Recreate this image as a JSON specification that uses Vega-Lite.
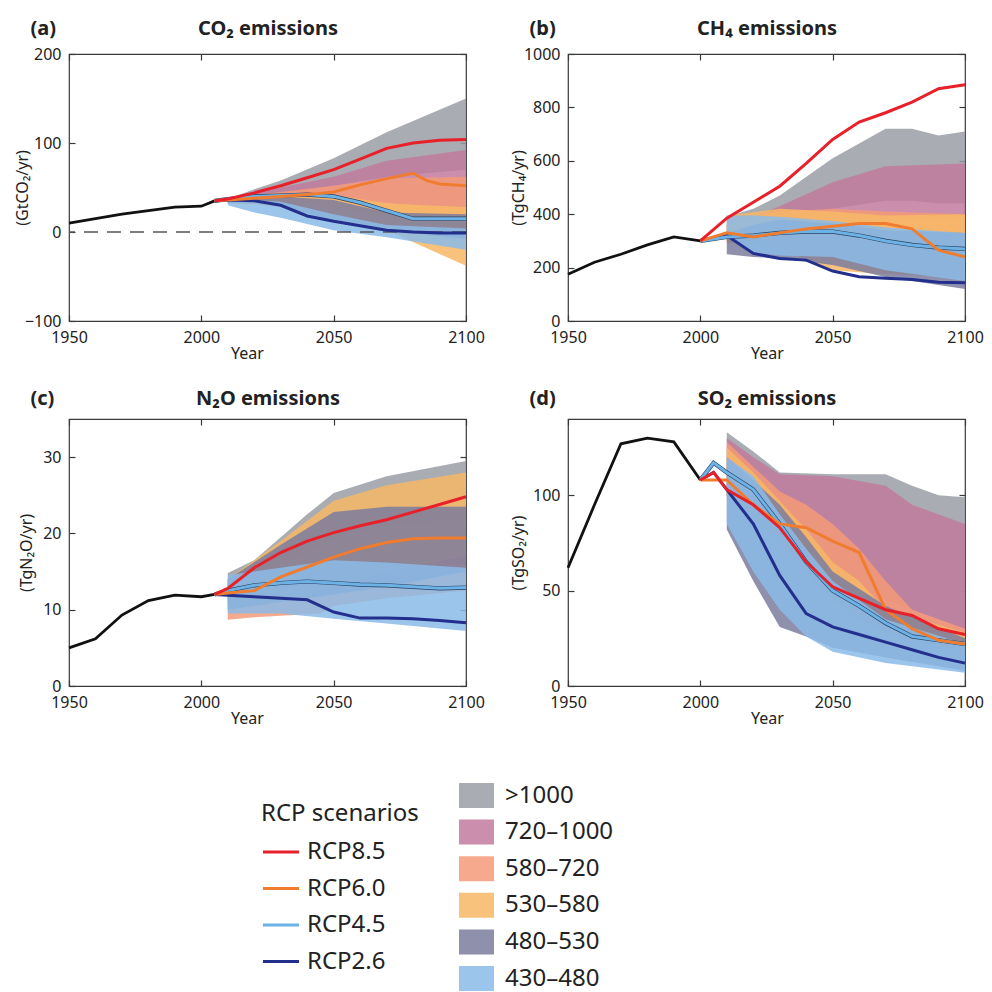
{
 "$schema": "https://vega.github.io/schema/vega-lite/v6.json",
 "padding": {"left": 13, "top": 17, "right": 5, "bottom": 5},
 "bounds": "flush",
 "columns": 2,
 "spacing": {"column": 102, "row": 98},
 "config": {
  "font": "Noto Sans",
  "view": {"stroke": "#3a3a3a", "strokeWidth": 1.2},
  "axis": {"grid": false, "domain": false, "tickColor": "#3a3a3a", "tickSize": -6, "tickWidth": 1.2, "labelFontSize": 16, "labelColor": "#222", "titleFontSize": 16, "titleFontWeight": "normal", "titleColor": "#222", "labelPadding": 14, "labelFlush": false},
  "legend": {"labelColor": "#222", "titleColor": "#222"}
 },
 "datasets": {
  "bands": [
   {"panel":"a","cat":">1000","year":2010,"lo":33,"hi":37},
   {"panel":"a","cat":">1000","year":2020,"lo":38,"hi":48},
   {"panel":"a","cat":">1000","year":2030,"lo":42,"hi":58},
   {"panel":"a","cat":">1000","year":2050,"lo":52,"hi":83},
   {"panel":"a","cat":">1000","year":2070,"lo":62,"hi":112},
   {"panel":"a","cat":">1000","year":2100,"lo":70,"hi":150},
   {"panel":"a","cat":"720–1000","year":2010,"lo":33,"hi":37},
   {"panel":"a","cat":"720–1000","year":2020,"lo":35,"hi":44},
   {"panel":"a","cat":"720–1000","year":2030,"lo":37,"hi":50},
   {"panel":"a","cat":"720–1000","year":2050,"lo":38,"hi":62},
   {"panel":"a","cat":"720–1000","year":2070,"lo":33,"hi":80},
   {"panel":"a","cat":"720–1000","year":2100,"lo":25,"hi":92},
   {"panel":"a","cat":"580–720","year":2010,"lo":33,"hi":36},
   {"panel":"a","cat":"580–720","year":2020,"lo":33,"hi":41},
   {"panel":"a","cat":"580–720","year":2030,"lo":33,"hi":45},
   {"panel":"a","cat":"580–720","year":2050,"lo":28,"hi":52},
   {"panel":"a","cat":"580–720","year":2070,"lo":18,"hi":60},
   {"panel":"a","cat":"580–720","year":2100,"lo":5,"hi":62},
   {"panel":"a","cat":"530–580","year":2010,"lo":32,"hi":36},
   {"panel":"a","cat":"530–580","year":2020,"lo":31,"hi":39},
   {"panel":"a","cat":"530–580","year":2030,"lo":28,"hi":41},
   {"panel":"a","cat":"530–580","year":2050,"lo":14,"hi":42},
   {"panel":"a","cat":"530–580","year":2070,"lo":2,"hi":32},
   {"panel":"a","cat":"530–580","year":2100,"lo":-38,"hi":28},
   {"panel":"a","cat":"480–530","year":2010,"lo":33,"hi":36},
   {"panel":"a","cat":"480–530","year":2020,"lo":33,"hi":39},
   {"panel":"a","cat":"480–530","year":2030,"lo":30,"hi":40},
   {"panel":"a","cat":"480–530","year":2050,"lo":12,"hi":36},
   {"panel":"a","cat":"480–530","year":2070,"lo":2,"hi":22},
   {"panel":"a","cat":"480–530","year":2100,"lo":-8,"hi":20},
   {"panel":"a","cat":"430–480","year":2010,"lo":30,"hi":35},
   {"panel":"a","cat":"430–480","year":2020,"lo":22,"hi":36},
   {"panel":"a","cat":"430–480","year":2030,"lo":16,"hi":34},
   {"panel":"a","cat":"430–480","year":2050,"lo":2,"hi":20},
   {"panel":"a","cat":"430–480","year":2070,"lo":-6,"hi":8},
   {"panel":"a","cat":"430–480","year":2100,"lo":-20,"hi":4},

   {"panel":"b","cat":">1000","year":2010,"lo":300,"hi":390},
   {"panel":"b","cat":">1000","year":2020,"lo":330,"hi":420},
   {"panel":"b","cat":">1000","year":2030,"lo":370,"hi":470},
   {"panel":"b","cat":">1000","year":2050,"lo":420,"hi":610},
   {"panel":"b","cat":">1000","year":2070,"lo":450,"hi":720},
   {"panel":"b","cat":">1000","year":2080,"lo":450,"hi":720},
   {"panel":"b","cat":">1000","year":2090,"lo":440,"hi":695},
   {"panel":"b","cat":">1000","year":2100,"lo":440,"hi":710},
   {"panel":"b","cat":"720–1000","year":2010,"lo":300,"hi":360},
   {"panel":"b","cat":"720–1000","year":2020,"lo":320,"hi":390},
   {"panel":"b","cat":"720–1000","year":2030,"lo":340,"hi":430},
   {"panel":"b","cat":"720–1000","year":2050,"lo":360,"hi":520},
   {"panel":"b","cat":"720–1000","year":2070,"lo":380,"hi":580},
   {"panel":"b","cat":"720–1000","year":2100,"lo":380,"hi":590},
   {"panel":"b","cat":"580–720","year":2010,"lo":290,"hi":360},
   {"panel":"b","cat":"580–720","year":2020,"lo":300,"hi":390},
   {"panel":"b","cat":"580–720","year":2030,"lo":300,"hi":410},
   {"panel":"b","cat":"580–720","year":2050,"lo":280,"hi":420},
   {"panel":"b","cat":"580–720","year":2070,"lo":250,"hi":410},
   {"panel":"b","cat":"580–720","year":2100,"lo":230,"hi":400},
   {"panel":"b","cat":"530–580","year":2010,"lo":300,"hi":395},
   {"panel":"b","cat":"530–580","year":2030,"lo":270,"hi":420},
   {"panel":"b","cat":"530–580","year":2050,"lo":190,"hi":410},
   {"panel":"b","cat":"530–580","year":2070,"lo":175,"hi":395},
   {"panel":"b","cat":"530–580","year":2100,"lo":165,"hi":400},
   {"panel":"b","cat":"480–530","year":2010,"lo":250,"hi":330},
   {"panel":"b","cat":"480–530","year":2020,"lo":240,"hi":360},
   {"panel":"b","cat":"480–530","year":2030,"lo":235,"hi":380},
   {"panel":"b","cat":"480–530","year":2050,"lo":210,"hi":365},
   {"panel":"b","cat":"480–530","year":2070,"lo":165,"hi":340},
   {"panel":"b","cat":"480–530","year":2100,"lo":120,"hi":330},
   {"panel":"b","cat":"430–480","year":2010,"lo":320,"hi":395},
   {"panel":"b","cat":"430–480","year":2020,"lo":255,"hi":395},
   {"panel":"b","cat":"430–480","year":2030,"lo":245,"hi":390},
   {"panel":"b","cat":"430–480","year":2050,"lo":240,"hi":375},
   {"panel":"b","cat":"430–480","year":2070,"lo":190,"hi":350},
   {"panel":"b","cat":"430–480","year":2100,"lo":150,"hi":330},

   {"panel":"c","cat":">1000","year":2010,"lo":11.5,"hi":14.8},
   {"panel":"c","cat":">1000","year":2020,"lo":12.5,"hi":16.5},
   {"panel":"c","cat":">1000","year":2030,"lo":14,"hi":19.5},
   {"panel":"c","cat":">1000","year":2040,"lo":15.5,"hi":22.5},
   {"panel":"c","cat":">1000","year":2050,"lo":17,"hi":25.3},
   {"panel":"c","cat":">1000","year":2070,"lo":19.5,"hi":27.5},
   {"panel":"c","cat":">1000","year":2100,"lo":22.5,"hi":29.5},
   {"panel":"c","cat":"720–1000","year":2010,"lo":11,"hi":14},
   {"panel":"c","cat":"720–1000","year":2030,"lo":12.5,"hi":18},
   {"panel":"c","cat":"720–1000","year":2050,"lo":14,"hi":21.5},
   {"panel":"c","cat":"720–1000","year":2070,"lo":15,"hi":22.8},
   {"panel":"c","cat":"720–1000","year":2100,"lo":16,"hi":23.5},
   {"panel":"c","cat":"580–720","year":2010,"lo":8.7,"hi":13.5},
   {"panel":"c","cat":"580–720","year":2020,"lo":9,"hi":14.5},
   {"panel":"c","cat":"580–720","year":2030,"lo":9.2,"hi":16},
   {"panel":"c","cat":"580–720","year":2045,"lo":9.5,"hi":18.5},
   {"panel":"c","cat":"580–720","year":2050,"lo":10.5,"hi":19.5},
   {"panel":"c","cat":"580–720","year":2070,"lo":11.5,"hi":21},
   {"panel":"c","cat":"580–720","year":2100,"lo":12.5,"hi":22},
   {"panel":"c","cat":"530–580","year":2010,"lo":10,"hi":14},
   {"panel":"c","cat":"530–580","year":2030,"lo":11,"hi":19},
   {"panel":"c","cat":"530–580","year":2050,"lo":13,"hi":24.3},
   {"panel":"c","cat":"530–580","year":2070,"lo":15,"hi":26.3},
   {"panel":"c","cat":"530–580","year":2100,"lo":17,"hi":28},
   {"panel":"c","cat":"480–530","year":2010,"lo":10,"hi":14},
   {"panel":"c","cat":"480–530","year":2030,"lo":11,"hi":18.5},
   {"panel":"c","cat":"480–530","year":2050,"lo":12,"hi":22.8},
   {"panel":"c","cat":"480–530","year":2070,"lo":13,"hi":23.5},
   {"panel":"c","cat":"480–530","year":2100,"lo":15,"hi":23.5},
   {"panel":"c","cat":"430–480","year":2010,"lo":9.5,"hi":14.5},
   {"panel":"c","cat":"430–480","year":2030,"lo":9.5,"hi":15.5},
   {"panel":"c","cat":"430–480","year":2050,"lo":8.8,"hi":16.5},
   {"panel":"c","cat":"430–480","year":2070,"lo":8.2,"hi":16.2},
   {"panel":"c","cat":"430–480","year":2100,"lo":7.2,"hi":15.5},

   {"panel":"d","cat":">1000","year":2010,"lo":100,"hi":133},
   {"panel":"d","cat":">1000","year":2020,"lo":92,"hi":123},
   {"panel":"d","cat":">1000","year":2030,"lo":80,"hi":112},
   {"panel":"d","cat":">1000","year":2050,"lo":60,"hi":111},
   {"panel":"d","cat":">1000","year":2070,"lo":45,"hi":111},
   {"panel":"d","cat":">1000","year":2080,"lo":40,"hi":105},
   {"panel":"d","cat":">1000","year":2090,"lo":35,"hi":100},
   {"panel":"d","cat":">1000","year":2100,"lo":30,"hi":99},
   {"panel":"d","cat":"720–1000","year":2010,"lo":100,"hi":130},
   {"panel":"d","cat":"720–1000","year":2020,"lo":90,"hi":120},
   {"panel":"d","cat":"720–1000","year":2030,"lo":75,"hi":111},
   {"panel":"d","cat":"720–1000","year":2050,"lo":52,"hi":110},
   {"panel":"d","cat":"720–1000","year":2070,"lo":40,"hi":105},
   {"panel":"d","cat":"720–1000","year":2080,"lo":35,"hi":95},
   {"panel":"d","cat":"720–1000","year":2100,"lo":25,"hi":85},
   {"panel":"d","cat":"580–720","year":2010,"lo":100,"hi":128},
   {"panel":"d","cat":"580–720","year":2020,"lo":90,"hi":115},
   {"panel":"d","cat":"580–720","year":2030,"lo":78,"hi":102},
   {"panel":"d","cat":"580–720","year":2040,"lo":65,"hi":95},
   {"panel":"d","cat":"580–720","year":2050,"lo":50,"hi":85},
   {"panel":"d","cat":"580–720","year":2060,"lo":40,"hi":72},
   {"panel":"d","cat":"580–720","year":2070,"lo":32,"hi":55},
   {"panel":"d","cat":"580–720","year":2080,"lo":26,"hi":40},
   {"panel":"d","cat":"580–720","year":2100,"lo":20,"hi":30},
   {"panel":"d","cat":"530–580","year":2010,"lo":98,"hi":125},
   {"panel":"d","cat":"530–580","year":2020,"lo":88,"hi":112},
   {"panel":"d","cat":"530–580","year":2030,"lo":75,"hi":97},
   {"panel":"d","cat":"530–580","year":2040,"lo":60,"hi":82},
   {"panel":"d","cat":"530–580","year":2050,"lo":45,"hi":65},
   {"panel":"d","cat":"530–580","year":2060,"lo":35,"hi":55},
   {"panel":"d","cat":"530–580","year":2070,"lo":28,"hi":40},
   {"panel":"d","cat":"530–580","year":2100,"lo":18,"hi":28},
   {"panel":"d","cat":"480–530","year":2010,"lo":82,"hi":120},
   {"panel":"d","cat":"480–530","year":2020,"lo":55,"hi":108},
   {"panel":"d","cat":"480–530","year":2030,"lo":31,"hi":95},
   {"panel":"d","cat":"480–530","year":2040,"lo":26,"hi":78},
   {"panel":"d","cat":"480–530","year":2050,"lo":20,"hi":60},
   {"panel":"d","cat":"480–530","year":2070,"lo":15,"hi":42},
   {"panel":"d","cat":"480–530","year":2100,"lo":8,"hi":25},
   {"panel":"d","cat":"430–480","year":2010,"lo":85,"hi":120},
   {"panel":"d","cat":"430–480","year":2020,"lo":60,"hi":110},
   {"panel":"d","cat":"430–480","year":2030,"lo":40,"hi":90},
   {"panel":"d","cat":"430–480","year":2040,"lo":26,"hi":72},
   {"panel":"d","cat":"430–480","year":2050,"lo":18,"hi":55},
   {"panel":"d","cat":"430–480","year":2070,"lo":12,"hi":35},
   {"panel":"d","cat":"430–480","year":2100,"lo":7,"hi":22}
  ],
  "lines": [
   {"panel":"a","scen":"Historical","year":1950,"v":10},
   {"panel":"a","scen":"Historical","year":1960,"v":15},
   {"panel":"a","scen":"Historical","year":1970,"v":20},
   {"panel":"a","scen":"Historical","year":1980,"v":24},
   {"panel":"a","scen":"Historical","year":1990,"v":28},
   {"panel":"a","scen":"Historical","year":2000,"v":29},
   {"panel":"a","scen":"Historical","year":2005,"v":35},
   {"panel":"a","scen":"RCP2.6","year":2005,"v":35},
   {"panel":"a","scen":"RCP2.6","year":2010,"v":36},
   {"panel":"a","scen":"RCP2.6","year":2020,"v":35},
   {"panel":"a","scen":"RCP2.6","year":2030,"v":30},
   {"panel":"a","scen":"RCP2.6","year":2040,"v":18},
   {"panel":"a","scen":"RCP2.6","year":2050,"v":12},
   {"panel":"a","scen":"RCP2.6","year":2060,"v":7},
   {"panel":"a","scen":"RCP2.6","year":2070,"v":2},
   {"panel":"a","scen":"RCP2.6","year":2080,"v":0},
   {"panel":"a","scen":"RCP2.6","year":2090,"v":-1},
   {"panel":"a","scen":"RCP2.6","year":2100,"v":-1},
   {"panel":"a","scen":"RCP4.5","year":2005,"v":35},
   {"panel":"a","scen":"RCP4.5","year":2010,"v":37},
   {"panel":"a","scen":"RCP4.5","year":2020,"v":40},
   {"panel":"a","scen":"RCP4.5","year":2030,"v":41},
   {"panel":"a","scen":"RCP4.5","year":2040,"v":42},
   {"panel":"a","scen":"RCP4.5","year":2050,"v":40},
   {"panel":"a","scen":"RCP4.5","year":2060,"v":33},
   {"panel":"a","scen":"RCP4.5","year":2070,"v":24},
   {"panel":"a","scen":"RCP4.5","year":2080,"v":15},
   {"panel":"a","scen":"RCP4.5","year":2090,"v":15},
   {"panel":"a","scen":"RCP4.5","year":2100,"v":15},
   {"panel":"a","scen":"RCP6.0","year":2005,"v":35},
   {"panel":"a","scen":"RCP6.0","year":2010,"v":36},
   {"panel":"a","scen":"RCP6.0","year":2020,"v":38},
   {"panel":"a","scen":"RCP6.0","year":2030,"v":40},
   {"panel":"a","scen":"RCP6.0","year":2040,"v":42},
   {"panel":"a","scen":"RCP6.0","year":2050,"v":45},
   {"panel":"a","scen":"RCP6.0","year":2060,"v":53},
   {"panel":"a","scen":"RCP6.0","year":2070,"v":60},
   {"panel":"a","scen":"RCP6.0","year":2080,"v":66},
   {"panel":"a","scen":"RCP6.0","year":2085,"v":58},
   {"panel":"a","scen":"RCP6.0","year":2090,"v":54},
   {"panel":"a","scen":"RCP6.0","year":2100,"v":52},
   {"panel":"a","scen":"RCP8.5","year":2005,"v":35},
   {"panel":"a","scen":"RCP8.5","year":2010,"v":37},
   {"panel":"a","scen":"RCP8.5","year":2020,"v":44},
   {"panel":"a","scen":"RCP8.5","year":2030,"v":52},
   {"panel":"a","scen":"RCP8.5","year":2040,"v":61},
   {"panel":"a","scen":"RCP8.5","year":2050,"v":70},
   {"panel":"a","scen":"RCP8.5","year":2060,"v":82},
   {"panel":"a","scen":"RCP8.5","year":2070,"v":94},
   {"panel":"a","scen":"RCP8.5","year":2080,"v":100},
   {"panel":"a","scen":"RCP8.5","year":2090,"v":103},
   {"panel":"a","scen":"RCP8.5","year":2100,"v":104},

   {"panel":"b","scen":"Historical","year":1950,"v":175},
   {"panel":"b","scen":"Historical","year":1960,"v":220},
   {"panel":"b","scen":"Historical","year":1970,"v":250},
   {"panel":"b","scen":"Historical","year":1980,"v":285},
   {"panel":"b","scen":"Historical","year":1990,"v":315},
   {"panel":"b","scen":"Historical","year":2000,"v":300},
   {"panel":"b","scen":"RCP2.6","year":2000,"v":300},
   {"panel":"b","scen":"RCP2.6","year":2010,"v":320},
   {"panel":"b","scen":"RCP2.6","year":2020,"v":253},
   {"panel":"b","scen":"RCP2.6","year":2030,"v":234},
   {"panel":"b","scen":"RCP2.6","year":2040,"v":228},
   {"panel":"b","scen":"RCP2.6","year":2050,"v":187},
   {"panel":"b","scen":"RCP2.6","year":2060,"v":166},
   {"panel":"b","scen":"RCP2.6","year":2070,"v":160},
   {"panel":"b","scen":"RCP2.6","year":2080,"v":155},
   {"panel":"b","scen":"RCP2.6","year":2090,"v":145},
   {"panel":"b","scen":"RCP2.6","year":2100,"v":143},
   {"panel":"b","scen":"RCP4.5","year":2000,"v":300},
   {"panel":"b","scen":"RCP4.5","year":2010,"v":315},
   {"panel":"b","scen":"RCP4.5","year":2020,"v":320},
   {"panel":"b","scen":"RCP4.5","year":2030,"v":330},
   {"panel":"b","scen":"RCP4.5","year":2040,"v":335},
   {"panel":"b","scen":"RCP4.5","year":2050,"v":335},
   {"panel":"b","scen":"RCP4.5","year":2060,"v":320},
   {"panel":"b","scen":"RCP4.5","year":2070,"v":300},
   {"panel":"b","scen":"RCP4.5","year":2080,"v":285},
   {"panel":"b","scen":"RCP4.5","year":2090,"v":275},
   {"panel":"b","scen":"RCP4.5","year":2100,"v":270},
   {"panel":"b","scen":"RCP6.0","year":2000,"v":300},
   {"panel":"b","scen":"RCP6.0","year":2010,"v":330},
   {"panel":"b","scen":"RCP6.0","year":2020,"v":315},
   {"panel":"b","scen":"RCP6.0","year":2030,"v":330},
   {"panel":"b","scen":"RCP6.0","year":2040,"v":345},
   {"panel":"b","scen":"RCP6.0","year":2050,"v":355},
   {"panel":"b","scen":"RCP6.0","year":2060,"v":365},
   {"panel":"b","scen":"RCP6.0","year":2070,"v":365},
   {"panel":"b","scen":"RCP6.0","year":2080,"v":345},
   {"panel":"b","scen":"RCP6.0","year":2090,"v":265},
   {"panel":"b","scen":"RCP6.0","year":2100,"v":240},
   {"panel":"b","scen":"RCP8.5","year":2000,"v":300},
   {"panel":"b","scen":"RCP8.5","year":2010,"v":385},
   {"panel":"b","scen":"RCP8.5","year":2020,"v":445},
   {"panel":"b","scen":"RCP8.5","year":2030,"v":505},
   {"panel":"b","scen":"RCP8.5","year":2040,"v":590},
   {"panel":"b","scen":"RCP8.5","year":2050,"v":680},
   {"panel":"b","scen":"RCP8.5","year":2060,"v":745},
   {"panel":"b","scen":"RCP8.5","year":2070,"v":780},
   {"panel":"b","scen":"RCP8.5","year":2080,"v":820},
   {"panel":"b","scen":"RCP8.5","year":2090,"v":870},
   {"panel":"b","scen":"RCP8.5","year":2100,"v":885},

   {"panel":"c","scen":"Historical","year":1950,"v":5.0},
   {"panel":"c","scen":"Historical","year":1960,"v":6.2},
   {"panel":"c","scen":"Historical","year":1970,"v":9.3},
   {"panel":"c","scen":"Historical","year":1980,"v":11.2},
   {"panel":"c","scen":"Historical","year":1990,"v":11.9},
   {"panel":"c","scen":"Historical","year":2000,"v":11.7},
   {"panel":"c","scen":"Historical","year":2005,"v":12.0},
   {"panel":"c","scen":"RCP2.6","year":2005,"v":12},
   {"panel":"c","scen":"RCP2.6","year":2010,"v":11.9},
   {"panel":"c","scen":"RCP2.6","year":2020,"v":11.7},
   {"panel":"c","scen":"RCP2.6","year":2030,"v":11.5},
   {"panel":"c","scen":"RCP2.6","year":2040,"v":11.3},
   {"panel":"c","scen":"RCP2.6","year":2050,"v":9.7},
   {"panel":"c","scen":"RCP2.6","year":2060,"v":8.9},
   {"panel":"c","scen":"RCP2.6","year":2070,"v":8.9},
   {"panel":"c","scen":"RCP2.6","year":2080,"v":8.8},
   {"panel":"c","scen":"RCP2.6","year":2090,"v":8.6},
   {"panel":"c","scen":"RCP2.6","year":2100,"v":8.3},
   {"panel":"c","scen":"RCP4.5","year":2005,"v":12},
   {"panel":"c","scen":"RCP4.5","year":2010,"v":12.5},
   {"panel":"c","scen":"RCP4.5","year":2020,"v":13.2},
   {"panel":"c","scen":"RCP4.5","year":2030,"v":13.5},
   {"panel":"c","scen":"RCP4.5","year":2040,"v":13.7},
   {"panel":"c","scen":"RCP4.5","year":2050,"v":13.5},
   {"panel":"c","scen":"RCP4.5","year":2060,"v":13.3},
   {"panel":"c","scen":"RCP4.5","year":2070,"v":13.2},
   {"panel":"c","scen":"RCP4.5","year":2080,"v":13.0},
   {"panel":"c","scen":"RCP4.5","year":2090,"v":12.8},
   {"panel":"c","scen":"RCP4.5","year":2100,"v":12.9},
   {"panel":"c","scen":"RCP6.0","year":2005,"v":12},
   {"panel":"c","scen":"RCP6.0","year":2010,"v":12.2},
   {"panel":"c","scen":"RCP6.0","year":2020,"v":12.5},
   {"panel":"c","scen":"RCP6.0","year":2030,"v":14.3},
   {"panel":"c","scen":"RCP6.0","year":2040,"v":15.6},
   {"panel":"c","scen":"RCP6.0","year":2050,"v":16.9},
   {"panel":"c","scen":"RCP6.0","year":2060,"v":18.0},
   {"panel":"c","scen":"RCP6.0","year":2070,"v":18.8},
   {"panel":"c","scen":"RCP6.0","year":2080,"v":19.3},
   {"panel":"c","scen":"RCP6.0","year":2090,"v":19.4},
   {"panel":"c","scen":"RCP6.0","year":2100,"v":19.4},
   {"panel":"c","scen":"RCP8.5","year":2005,"v":12},
   {"panel":"c","scen":"RCP8.5","year":2010,"v":12.8},
   {"panel":"c","scen":"RCP8.5","year":2020,"v":15.5},
   {"panel":"c","scen":"RCP8.5","year":2030,"v":17.5},
   {"panel":"c","scen":"RCP8.5","year":2040,"v":19.0},
   {"panel":"c","scen":"RCP8.5","year":2050,"v":20.1},
   {"panel":"c","scen":"RCP8.5","year":2060,"v":21.0},
   {"panel":"c","scen":"RCP8.5","year":2070,"v":21.8},
   {"panel":"c","scen":"RCP8.5","year":2080,"v":22.8},
   {"panel":"c","scen":"RCP8.5","year":2090,"v":23.8},
   {"panel":"c","scen":"RCP8.5","year":2100,"v":24.8},

   {"panel":"d","scen":"Historical","year":1950,"v":62},
   {"panel":"d","scen":"Historical","year":1960,"v":95},
   {"panel":"d","scen":"Historical","year":1970,"v":127},
   {"panel":"d","scen":"Historical","year":1980,"v":130},
   {"panel":"d","scen":"Historical","year":1990,"v":128},
   {"panel":"d","scen":"Historical","year":2000,"v":108},
   {"panel":"d","scen":"RCP2.6","year":2000,"v":108},
   {"panel":"d","scen":"RCP2.6","year":2005,"v":112},
   {"panel":"d","scen":"RCP2.6","year":2010,"v":103},
   {"panel":"d","scen":"RCP2.6","year":2020,"v":85},
   {"panel":"d","scen":"RCP2.6","year":2030,"v":58},
   {"panel":"d","scen":"RCP2.6","year":2040,"v":38},
   {"panel":"d","scen":"RCP2.6","year":2050,"v":31},
   {"panel":"d","scen":"RCP2.6","year":2060,"v":27},
   {"panel":"d","scen":"RCP2.6","year":2070,"v":23},
   {"panel":"d","scen":"RCP2.6","year":2080,"v":19},
   {"panel":"d","scen":"RCP2.6","year":2090,"v":15},
   {"panel":"d","scen":"RCP2.6","year":2100,"v":12},
   {"panel":"d","scen":"RCP4.5","year":2000,"v":108},
   {"panel":"d","scen":"RCP4.5","year":2005,"v":117},
   {"panel":"d","scen":"RCP4.5","year":2010,"v":112},
   {"panel":"d","scen":"RCP4.5","year":2020,"v":103},
   {"panel":"d","scen":"RCP4.5","year":2030,"v":85},
   {"panel":"d","scen":"RCP4.5","year":2040,"v":65},
   {"panel":"d","scen":"RCP4.5","year":2050,"v":50},
   {"panel":"d","scen":"RCP4.5","year":2060,"v":42},
   {"panel":"d","scen":"RCP4.5","year":2070,"v":33},
   {"panel":"d","scen":"RCP4.5","year":2080,"v":26},
   {"panel":"d","scen":"RCP4.5","year":2090,"v":24},
   {"panel":"d","scen":"RCP4.5","year":2100,"v":22},
   {"panel":"d","scen":"RCP6.0","year":2000,"v":108},
   {"panel":"d","scen":"RCP6.0","year":2005,"v":108},
   {"panel":"d","scen":"RCP6.0","year":2010,"v":108},
   {"panel":"d","scen":"RCP6.0","year":2020,"v":95},
   {"panel":"d","scen":"RCP6.0","year":2030,"v":85},
   {"panel":"d","scen":"RCP6.0","year":2040,"v":83},
   {"panel":"d","scen":"RCP6.0","year":2050,"v":76},
   {"panel":"d","scen":"RCP6.0","year":2060,"v":70},
   {"panel":"d","scen":"RCP6.0","year":2070,"v":40},
   {"panel":"d","scen":"RCP6.0","year":2080,"v":30},
   {"panel":"d","scen":"RCP6.0","year":2090,"v":24},
   {"panel":"d","scen":"RCP6.0","year":2100,"v":22},
   {"panel":"d","scen":"RCP8.5","year":2000,"v":108},
   {"panel":"d","scen":"RCP8.5","year":2005,"v":112},
   {"panel":"d","scen":"RCP8.5","year":2010,"v":103},
   {"panel":"d","scen":"RCP8.5","year":2020,"v":95},
   {"panel":"d","scen":"RCP8.5","year":2030,"v":83},
   {"panel":"d","scen":"RCP8.5","year":2040,"v":65},
   {"panel":"d","scen":"RCP8.5","year":2050,"v":52},
   {"panel":"d","scen":"RCP8.5","year":2060,"v":46},
   {"panel":"d","scen":"RCP8.5","year":2070,"v":40},
   {"panel":"d","scen":"RCP8.5","year":2080,"v":37},
   {"panel":"d","scen":"RCP8.5","year":2090,"v":30},
   {"panel":"d","scen":"RCP8.5","year":2100,"v":27}
  ]
 },
 "concat": [
  {
   "width": 397, "height": 267,
   "layer": [
    {
     "data": {"name": "bands"},
     "transform": [{"filter": "datum.panel === 'a'"}],
     "mark": {"type": "area", "opacity": 0.85},
     "encoding": {
      "x": {"field": "year", "type": "quantitative", "scale": {"domain": [1950, 2100], "nice": false}, "axis": {"orient": "bottom", "values": [1950, 2000, 2050, 2100], "format": "d", "title": "Year", "titleX": 178, "titlePadding": 0}},
      "y": {"field": "lo", "type": "quantitative", "scale": {"domain": [-100, 200], "nice": false}, "axis": {"orient": "left", "values": [-100, 0, 100, 200], "format": "d", "title": "(GtCO₂/yr)", "titleX": -47, "titleBaseline": "middle"}},
      "y2": {"field": "hi"},
      "fill": {"field": "cat", "type": "nominal", "scale": {"domain": [">1000", "720–1000", "580–720", "530–580", "480–530", "430–480"], "range": ["#9a9ea5", "#c27a9e", "#f59a78", "#f7b766", "#7b7d9e", "#8bbbe8"]},
        "legend": {"title": null, "orient": "none", "legendX": 395, "legendY": 729, "symbolType": "M-1.4,-1H1.4V1H-1.4Z", "symbolSize": 625, "symbolOpacity": 1, "symbolStrokeWidth": 0, "labelFontSize": 24, "rowPadding": 11.6, "labelOffset": 16}}
     }
    },
    {
     "data": {"values": [{"level": 0}]},
     "mark": {"type": "rule", "strokeDash": [14, 9], "color": "#555", "strokeWidth": 1.5},
     "encoding": {"y": {"field": "level", "type": "quantitative", "axis": null}}
    },
    {
     "data": {"name": "lines"},
     "transform": [{"filter": "datum.panel === 'a' && datum.scen === 'Historical'"}],
     "mark": {"type": "line", "color": "#111", "strokeWidth": 2.8},
     "encoding": {"x": {"field": "year", "type": "quantitative", "axis": null}, "y": {"field": "v", "type": "quantitative", "axis": null}}
    },
    {
     "data": {"name": "lines"},
     "transform": [{"filter": "datum.panel === 'a' && datum.scen === 'RCP4.5'"}],
     "mark": {"type": "line", "color": "#2a4260", "strokeWidth": 4.2},
     "encoding": {"x": {"field": "year", "type": "quantitative", "axis": null}, "y": {"field": "v", "type": "quantitative", "axis": null}}
    },
    {
     "data": {"name": "lines"},
     "transform": [{"filter": "datum.panel === 'a' && datum.scen !== 'Historical'"}],
     "mark": {"type": "line"},
     "encoding": {
      "x": {"field": "year", "type": "quantitative", "axis": {"orient": "top", "labels": false, "values": [1950, 2000, 2050, 2100], "title": "CO₂ emissions", "titleFontSize": 20, "titleFontWeight": "bold", "titleY": -20, "titleBaseline": "alphabetic"}},
      "y": {"field": "v", "type": "quantitative", "axis": {"orient": "right", "labels": false, "values": [-100, 0, 100, 200], "title": "(a)", "titleAngle": 0, "titleX": -436, "titleY": -20, "titleAlign": "left", "titleBaseline": "alphabetic", "titleFontSize": 20, "titleFontWeight": "bold"}},
      "stroke": {"field": "scen", "type": "nominal", "scale": {"domain": ["RCP8.5", "RCP6.0", "RCP4.5", "RCP2.6"], "range": ["#e8202a", "#f07c30", "#6cb2e6", "#232f8c"]},
        "legend": {"title": "RCP scenarios", "orient": "none", "legendX": 192, "legendY": 748, "symbolType": "stroke", "symbolSize": 1300, "symbolStrokeWidth": 5, "labelFontSize": 24, "titleFontSize": 24, "titleFontWeight": "normal", "rowPadding": 4.5, "titlePadding": 6, "labelOffset": 6}},
      "strokeWidth": {"field": "scen", "type": "nominal", "scale": {"domain": ["RCP8.5", "RCP6.0", "RCP4.5", "RCP2.6"], "range": [3, 3, 1.8, 3]}, "legend": null}
     }
    }
   ]
  },
  {
   "width": 397, "height": 267,
   "layer": [
    {
     "data": {"name": "bands"},
     "transform": [{"filter": "datum.panel === 'b'"}],
     "mark": {"type": "area", "opacity": 0.85},
     "encoding": {
      "x": {"field": "year", "type": "quantitative", "scale": {"domain": [1950, 2100], "nice": false}, "axis": {"orient": "bottom", "values": [1950, 2000, 2050, 2100], "format": "d", "title": "Year", "titleX": 199, "titlePadding": 0}},
      "y": {"field": "lo", "type": "quantitative", "scale": {"domain": [0, 1000], "nice": false}, "axis": {"orient": "left", "values": [0, 200, 400, 600, 800, 1000], "format": "d", "title": "(TgCH₄/yr)", "titleX": -50, "titleBaseline": "middle"}},
      "y2": {"field": "hi"},
      "fill": {"field": "cat", "type": "nominal", "scale": {"domain": [">1000", "720–1000", "580–720", "530–580", "480–530", "430–480"], "range": ["#9a9ea5", "#c27a9e", "#f59a78", "#f7b766", "#7b7d9e", "#8bbbe8"]}}
     }
    },
    {
     "data": {"name": "lines"},
     "transform": [{"filter": "datum.panel === 'b' && datum.scen === 'Historical'"}],
     "mark": {"type": "line", "color": "#111", "strokeWidth": 2.8},
     "encoding": {"x": {"field": "year", "type": "quantitative", "axis": null}, "y": {"field": "v", "type": "quantitative", "axis": null}}
    },
    {
     "data": {"name": "lines"},
     "transform": [{"filter": "datum.panel === 'b' && datum.scen === 'RCP4.5'"}],
     "mark": {"type": "line", "color": "#2a4260", "strokeWidth": 4.2},
     "encoding": {"x": {"field": "year", "type": "quantitative", "axis": null}, "y": {"field": "v", "type": "quantitative", "axis": null}}
    },
    {
     "data": {"name": "lines"},
     "transform": [{"filter": "datum.panel === 'b' && datum.scen !== 'Historical'"}],
     "mark": {"type": "line"},
     "encoding": {
      "x": {"field": "year", "type": "quantitative", "axis": {"orient": "top", "labels": false, "values": [1950, 2000, 2050, 2100], "title": "CH₄ emissions", "titleFontSize": 20, "titleFontWeight": "bold", "titleY": -20, "titleBaseline": "alphabetic"}},
      "y": {"field": "v", "type": "quantitative", "axis": {"orient": "right", "labels": false, "values": [0, 200, 400, 600, 800, 1000], "title": "(b)", "titleAngle": 0, "titleX": -436, "titleY": -20, "titleAlign": "left", "titleBaseline": "alphabetic", "titleFontSize": 20, "titleFontWeight": "bold"}},
      "stroke": {"field": "scen", "type": "nominal", "scale": {"domain": ["RCP8.5", "RCP6.0", "RCP4.5", "RCP2.6"], "range": ["#e8202a", "#f07c30", "#6cb2e6", "#232f8c"]}},
      "strokeWidth": {"field": "scen", "type": "nominal", "scale": {"domain": ["RCP8.5", "RCP6.0", "RCP4.5", "RCP2.6"], "range": [3, 3, 1.8, 3]}, "legend": null}
     }
    }
   ]
  },
  {
   "width": 397, "height": 267,
   "layer": [
    {
     "data": {"name": "bands"},
     "transform": [{"filter": "datum.panel === 'c'"}],
     "mark": {"type": "area", "opacity": 0.85},
     "encoding": {
      "x": {"field": "year", "type": "quantitative", "scale": {"domain": [1950, 2100], "nice": false}, "axis": {"orient": "bottom", "values": [1950, 2000, 2050, 2100], "format": "d", "title": "Year", "titleX": 178, "titlePadding": 0}},
      "y": {"field": "lo", "type": "quantitative", "scale": {"domain": [0, 35], "nice": false}, "axis": {"orient": "left", "values": [0, 10, 20, 30], "format": "d", "title": "(TgN₂O/yr)", "titleX": -43, "titleBaseline": "middle"}},
      "y2": {"field": "hi"},
      "fill": {"field": "cat", "type": "nominal", "scale": {"domain": [">1000", "720–1000", "580–720", "530–580", "480–530", "430–480"], "range": ["#9a9ea5", "#c27a9e", "#f59a78", "#f7b766", "#7b7d9e", "#8bbbe8"]}}
     }
    },
    {
     "data": {"name": "lines"},
     "transform": [{"filter": "datum.panel === 'c' && datum.scen === 'Historical'"}],
     "mark": {"type": "line", "color": "#111", "strokeWidth": 2.8},
     "encoding": {"x": {"field": "year", "type": "quantitative", "axis": null}, "y": {"field": "v", "type": "quantitative", "axis": null}}
    },
    {
     "data": {"name": "lines"},
     "transform": [{"filter": "datum.panel === 'c' && datum.scen === 'RCP4.5'"}],
     "mark": {"type": "line", "color": "#2a4260", "strokeWidth": 4.2},
     "encoding": {"x": {"field": "year", "type": "quantitative", "axis": null}, "y": {"field": "v", "type": "quantitative", "axis": null}}
    },
    {
     "data": {"name": "lines"},
     "transform": [{"filter": "datum.panel === 'c' && datum.scen !== 'Historical'"}],
     "mark": {"type": "line"},
     "encoding": {
      "x": {"field": "year", "type": "quantitative", "axis": {"orient": "top", "labels": false, "values": [1950, 2000, 2050, 2100], "title": "N₂O emissions", "titleFontSize": 20, "titleFontWeight": "bold", "titleY": -15, "titleBaseline": "alphabetic"}},
      "y": {"field": "v", "type": "quantitative", "axis": {"orient": "right", "labels": false, "values": [0, 10, 20, 30], "title": "(c)", "titleAngle": 0, "titleX": -436, "titleY": -15, "titleAlign": "left", "titleBaseline": "alphabetic", "titleFontSize": 20, "titleFontWeight": "bold"}},
      "stroke": {"field": "scen", "type": "nominal", "scale": {"domain": ["RCP8.5", "RCP6.0", "RCP4.5", "RCP2.6"], "range": ["#e8202a", "#f07c30", "#6cb2e6", "#232f8c"]}},
      "strokeWidth": {"field": "scen", "type": "nominal", "scale": {"domain": ["RCP8.5", "RCP6.0", "RCP4.5", "RCP2.6"], "range": [3, 3, 1.8, 3]}, "legend": null}
     }
    }
   ]
  },
  {
   "width": 397, "height": 267,
   "layer": [
    {
     "data": {"name": "bands"},
     "transform": [{"filter": "datum.panel === 'd'"}],
     "mark": {"type": "area", "opacity": 0.85},
     "encoding": {
      "x": {"field": "year", "type": "quantitative", "scale": {"domain": [1950, 2100], "nice": false}, "axis": {"orient": "bottom", "values": [1950, 2000, 2050, 2100], "format": "d", "title": "Year", "titleX": 199, "titlePadding": 0}},
      "y": {"field": "lo", "type": "quantitative", "scale": {"domain": [0, 140], "nice": false}, "axis": {"orient": "left", "values": [0, 50, 100], "format": "d", "title": "(TgSO₂/yr)", "titleX": -50, "titleBaseline": "middle"}},
      "y2": {"field": "hi"},
      "fill": {"field": "cat", "type": "nominal", "scale": {"domain": [">1000", "720–1000", "580–720", "530–580", "480–530", "430–480"], "range": ["#9a9ea5", "#c27a9e", "#f59a78", "#f7b766", "#7b7d9e", "#8bbbe8"]}}
     }
    },
    {
     "data": {"name": "lines"},
     "transform": [{"filter": "datum.panel === 'd' && datum.scen === 'Historical'"}],
     "mark": {"type": "line", "color": "#111", "strokeWidth": 2.8},
     "encoding": {"x": {"field": "year", "type": "quantitative", "axis": null}, "y": {"field": "v", "type": "quantitative", "axis": null}}
    },
    {
     "data": {"name": "lines"},
     "transform": [{"filter": "datum.panel === 'd' && datum.scen === 'RCP4.5'"}],
     "mark": {"type": "line", "color": "#2a4260", "strokeWidth": 4.2},
     "encoding": {"x": {"field": "year", "type": "quantitative", "axis": null}, "y": {"field": "v", "type": "quantitative", "axis": null}}
    },
    {
     "data": {"name": "lines"},
     "transform": [{"filter": "datum.panel === 'd' && datum.scen !== 'Historical'"}],
     "mark": {"type": "line"},
     "encoding": {
      "x": {"field": "year", "type": "quantitative", "axis": {"orient": "top", "labels": false, "values": [1950, 2000, 2050, 2100], "title": "SO₂ emissions", "titleFontSize": 20, "titleFontWeight": "bold", "titleY": -15, "titleBaseline": "alphabetic"}},
      "y": {"field": "v", "type": "quantitative", "axis": {"orient": "right", "labels": false, "values": [0, 50, 100], "title": "(d)", "titleAngle": 0, "titleX": -436, "titleY": -15, "titleAlign": "left", "titleBaseline": "alphabetic", "titleFontSize": 20, "titleFontWeight": "bold"}},
      "stroke": {"field": "scen", "type": "nominal", "scale": {"domain": ["RCP8.5", "RCP6.0", "RCP4.5", "RCP2.6"], "range": ["#e8202a", "#f07c30", "#6cb2e6", "#232f8c"]}},
      "strokeWidth": {"field": "scen", "type": "nominal", "scale": {"domain": ["RCP8.5", "RCP6.0", "RCP4.5", "RCP2.6"], "range": [3, 3, 1.8, 3]}, "legend": null}
     }
    }
   ]
  }
 ]
}
